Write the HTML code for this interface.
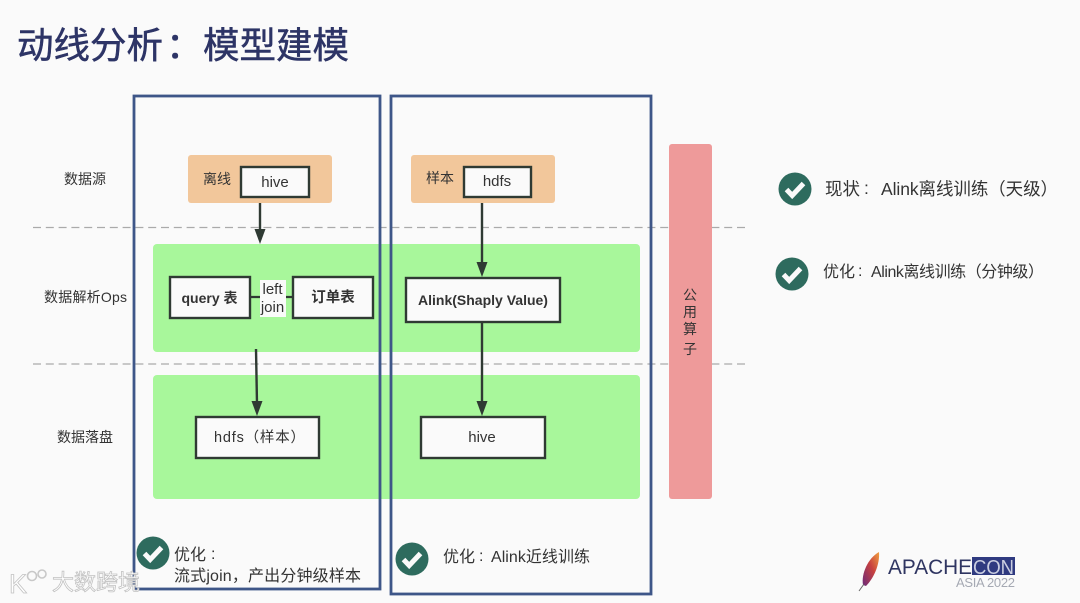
<!DOCTYPE html>
<html><head><meta charset="utf-8">
<style>
html,body{margin:0;padding:0;background:#fafafa;}
body{width:1080px;height:603px;overflow:hidden;position:relative;}
svg{position:absolute;left:0;top:0;}
text{font-family:"Liberation Sans","Noto Sans CJK SC",sans-serif;fill:#333;}
</style></head><body>
<svg width="1080" height="603" viewBox="0 0 1080 603">
<defs>
<g id="chk"><circle r="16.5" fill="#2e6b5e"/><path d="M-8.5 0.5 L-2.8 6.5 L8.5 -5.5" fill="none" stroke="#fafafa" stroke-width="5"/></g>
<linearGradient id="fe" x1="1" y1="0" x2="0" y2="1"><stop offset="0" stop-color="#f0a040"/><stop offset=".45" stop-color="#c8413f"/><stop offset="1" stop-color="#6a2a7a"/></linearGradient>
</defs>
<rect width="1080" height="603" fill="#fafafa"/>
<text x="17" y="58" font-size="36.500" style="fill:#2d3466;stroke:#2d3466;stroke-width:.5">动线分析</text>
<text x="166" y="58" font-size="36.500" style="fill:#2d3466;stroke:#2d3466;stroke-width:.5">：</text>
<text x="203" y="58" font-size="36.500" style="fill:#2d3466;stroke:#2d3466;stroke-width:.5">模型建模</text>

<line x1="33" y1="227.500" x2="748" y2="227.500" stroke="#aaa" stroke-width="1.200" stroke-dasharray="8 4.800"/>
<line x1="33" y1="364" x2="748" y2="364" stroke="#aaa" stroke-width="1.200" stroke-dasharray="8 4.800"/>

<rect x="153" y="244" width="487" height="108" rx="4" fill="#a8f79b"/>
<rect x="153" y="375" width="487" height="124" rx="4" fill="#a8f79b"/>
<rect x="188" y="155" width="144" height="48" rx="3" fill="#f2c79b"/>
<rect x="411" y="155" width="144" height="48" rx="3" fill="#f2c79b"/>
<rect x="669" y="144" width="43" height="355" rx="3" fill="#ee9a9a"/>

<rect x="134" y="96" width="246" height="493" fill="none" stroke="#3e5688" stroke-width="2.800"/>
<rect x="391" y="96" width="260" height="498" fill="none" stroke="#3e5688" stroke-width="2.800"/>

<text x="85" y="184" font-size="14" text-anchor="middle">数据源</text>
<text x="85.500" y="302" font-size="14" text-anchor="middle" textLength="83">数据解析Ops</text>
<text x="85" y="442" font-size="14" text-anchor="middle">数据落盘</text>

<text x="217" y="184" font-size="14" text-anchor="middle">离线</text>
<rect x="241" y="167" width="68" height="30" fill="#fafafa" stroke="#2f3a33" stroke-width="2.400"/>
<text x="275" y="187" font-size="15" text-anchor="middle">hive</text>
<text x="440" y="183" font-size="14" text-anchor="middle">样本</text>
<rect x="464" y="167" width="67" height="30" fill="#fafafa" stroke="#2f3a33" stroke-width="2.400"/>
<text x="497" y="186" font-size="15" text-anchor="middle">hdfs</text>

<rect x="170" y="277" width="80" height="41" fill="#fafafa" stroke="#2f3a33" stroke-width="2.400"/>
<text x="209.500" y="303" font-size="14" font-weight="bold" text-anchor="middle">query 表</text>
<line x1="250" y1="297" x2="293" y2="297" stroke="#2f3a33" stroke-width="2.200"/>
<rect x="260" y="280" width="26" height="37" fill="#fafafa"/>
<text x="272.500" y="294" font-size="15" text-anchor="middle">left</text>
<text x="272.500" y="312" font-size="15" text-anchor="middle">join</text>
<rect x="293" y="277" width="80" height="41" fill="#fafafa" stroke="#2f3a33" stroke-width="2.400"/>
<text x="333" y="302" font-size="14.500" font-weight="bold" text-anchor="middle">订单表</text>

<rect x="406" y="278" width="154" height="44" fill="#fafafa" stroke="#2f3a33" stroke-width="2.400"/>
<text x="483" y="305" font-size="14" font-weight="bold" text-anchor="middle">Alink(Shaply Value)</text>

<rect x="196" y="417" width="123" height="41" fill="#fafafa" stroke="#2f3a33" stroke-width="2.400"/>
<text x="214" y="442" font-size="14.500" textLength="91">hdfs（样本）</text>
<rect x="421" y="417" width="124" height="41" fill="#fafafa" stroke="#2f3a33" stroke-width="2.400"/>
<text x="482" y="442" font-size="15" text-anchor="middle">hive</text>

<g stroke="#2f3a33" stroke-width="2.400" fill="#2f3a33">
<line x1="260" y1="203" x2="260" y2="232"/><path d="M254.500 229 L265.500 229 L260 244 Z" stroke="none"/>
<line x1="482" y1="203" x2="482" y2="265"/><path d="M476.500 262 L487.500 262 L482 277 Z" stroke="none"/>
<line x1="482" y1="322" x2="482" y2="404"/><path d="M476.500 401 L487.500 401 L482 416 Z" stroke="none"/>
<line x1="256" y1="349" x2="257" y2="404"/><path d="M251.500 401 L262.500 401 L257 416 Z" stroke="none"/>
</g>

<text x="690" y="300" font-size="14" text-anchor="middle">公</text>
<text x="690" y="317" font-size="14" text-anchor="middle">用</text>
<text x="690" y="334" font-size="14" text-anchor="middle">算</text>
<text x="690" y="354" font-size="14" text-anchor="middle">子</text>

<use href="#chk" x="795" y="189"/>
<text x="825" y="195" font-size="17.500">现状</text>
<text x="864" y="194" font-size="17.500">:</text>
<text x="881" y="195" font-size="17.500" textLength="177">Alink离线训练（天级）</text>
<use href="#chk" x="792" y="274"/>
<text x="823" y="277" font-size="16">优化</text>
<text x="858" y="276" font-size="16">:</text>
<text x="871" y="277" font-size="16" textLength="173">Alink离线训练（分钟级）</text>

<use href="#chk" x="153" y="553"/>
<text x="174" y="560" font-size="16">优化</text>
<text x="211" y="559" font-size="16">:</text>
<text x="174" y="581" font-size="16" textLength="187">流式join，产出分钟级样本</text>
<use href="#chk" x="412" y="559"/>
<text x="443" y="562" font-size="16">优化</text>
<text x="479" y="561" font-size="16">:</text>
<text x="491" y="562" font-size="16" textLength="99">Alink近线训练</text>

<path d="M879 552 C868 558 861 574 863 585 L866 586 C874 578 880 564 879 552 Z" fill="url(#fe)"/>
<path d="M864 584 L859 591" stroke="#666" stroke-width="1" fill="none"/>
<text x="888" y="574" font-size="21" textLength="84" lengthAdjust="spacingAndGlyphs" style="fill:#2f3561">APACHE</text>
<rect x="972" y="557" width="43" height="18" fill="#2f3a80"/>
<text x="973" y="574" font-size="20" textLength="41" lengthAdjust="spacingAndGlyphs" style="fill:#c9cde0">CON</text>
<text x="956" y="587" font-size="13" textLength="59" style="fill:#a5a9b3">ASIA 2022</text>

<text x="52" y="590" font-size="22" style="fill:#fff;stroke:#c2c2c2;stroke-width:.8">大数跨境</text>
<text x="9" y="593" font-size="27" style="fill:#fff;stroke:#c2c2c2;stroke-width:.8">K</text>
<circle cx="32" cy="576" r="4.500" fill="none" stroke="#c8c8c8" stroke-width="1.600"/>
<circle cx="42" cy="574" r="4" fill="none" stroke="#c8c8c8" stroke-width="1.600"/>
</svg>
</body></html>
